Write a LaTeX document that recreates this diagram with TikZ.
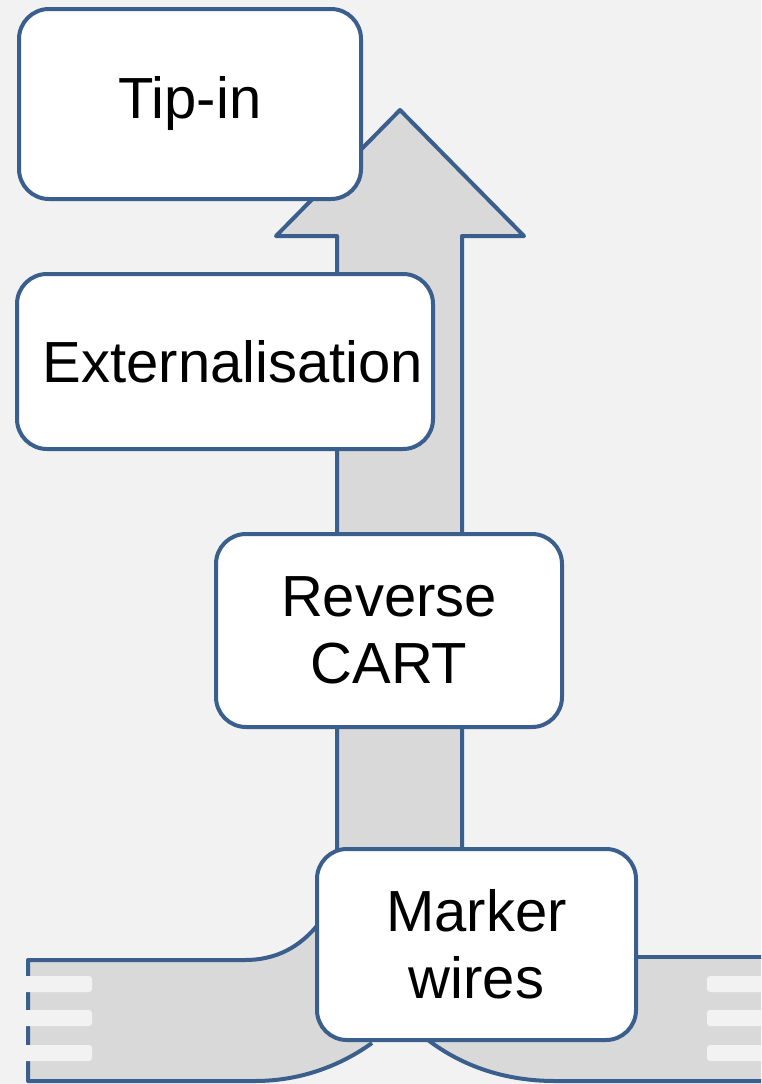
\documentclass[tikz,border=0pt]{standalone}
\usepackage{fontspec}
\setmainfont{Liberation Sans}
\definecolor{bgc}{RGB}{242,242,242}
\definecolor{edgec}{RGB}{58,95,140}
\definecolor{ribc}{RGB}{217,217,217}
\tikzset{
  stepbox/.style={draw=edgec, line width=4pt, fill=white, rounded corners=30pt,
    align=center, inner sep=0pt, font=\fontsize{58}{67}\selectfont},
  ribbon/.style={fill=ribc},
  outline/.style={draw=edgec, line width=4pt, line join=round},
  notch/.style={fill=bgc, rounded corners=3pt}
}
\begin{document}
\begin{tikzpicture}[x=1pt,y=-1pt]
\useasboundingbox (0,0) rectangle (761,1084);
\fill[bgc] (0,0) rectangle (761,1084);
\begin{scope}
\clip (0,0) rectangle (761,1084);
% left ribbon
\fill[ribbon] (28,960) -- (245,960) .. controls (275,960) and (300,948) .. (320,922)
  -- (420,922) -- (420,1038) -- (375,1038) -- (372,1043) .. controls (340,1066) and (300,1081) .. (255,1081)
  -- (28,1081) -- cycle;
\draw[outline] (320,922) .. controls (300,948) and (275,960) .. (245,960) -- (28,960)
  -- (28,1081) -- (255,1081) .. controls (300,1081) and (340,1066) .. (372,1043);
\foreach \y in {976,1010,1045}
  \fill[notch] (20,\y) rectangle (92,\y+16);
% right ribbon
\fill[ribbon] (600,957) -- (780,957) -- (780,1081) -- (555,1081)
  .. controls (505,1081) and (462,1066) .. (428,1040) -- (426,1038) -- (420,957) -- cycle;
\draw[outline] (600,957) -- (780,957);
\draw[outline] (780,1081) -- (555,1081) .. controls (505,1081) and (462,1066) .. (428,1040);
\foreach \y in {976,1010,1045}
  \fill[notch] (707,\y) rectangle (780,\y+16);
\end{scope}
% big arrow
\draw[outline, fill=ribc] (337,900) -- (337,236) -- (276,236) -- (400,110) -- (524,236)
  -- (462,236) -- (462,900) -- cycle;
% boxes
\node[stepbox, minimum width=342pt, minimum height=190pt] (tip) at (190,104) {\raisebox{-4pt}{Tip-in}};
\node[stepbox, minimum width=416pt, minimum height=175pt] (ext) at (225,361.5) {\hspace{16pt}Externalisation};
\node[stepbox, minimum width=346pt, minimum height=193pt] (cart) at (389,630.5) {Reverse\\CART};
\node[stepbox, minimum width=319pt, minimum height=191pt] (mark) at (476.5,944.5) {Marker\\wires};
\end{tikzpicture}
\end{document}
